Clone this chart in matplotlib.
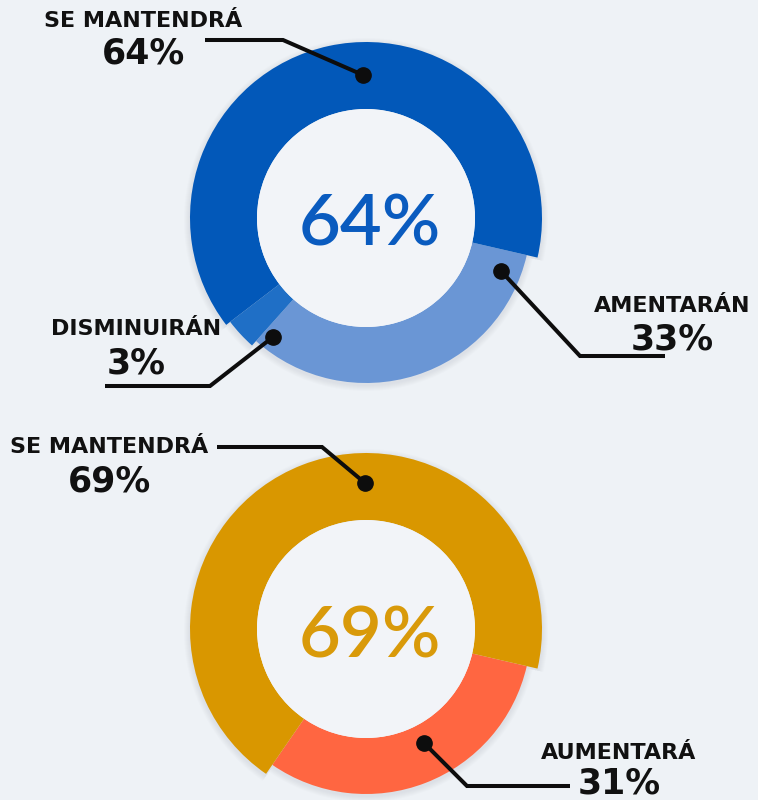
import matplotlib
matplotlib.use('Agg')
import matplotlib.pyplot as plt
from matplotlib.patches import Wedge, Circle

# ---------------- data ----------------
top_labels = ['AMENTARÁN', 'DISMINUIRÁN', 'SE MANTENDRÁ']
top_values = [33, 3, 64]
top_center = '64%'

bot_labels = ['AUMENTARÁ', 'SE MANTENDRÁ']
bot_values = [31, 69]
bot_center = '69%'

# ---------------- style ----------------
W, H = 758, 800
BG = '#eef2f6'
HOLE = '#f2f4f8'
top_colors = ['#6a96d5', '#1f6fc6', '#0258b9']
bot_colors = ['#ff6641', '#d99700']
top_radii = [165, 171, 176]
bot_radii = [165, 176]
INNER = 109

fig = plt.figure(figsize=(W / 100, H / 100), dpi=100, facecolor=BG)
ax = fig.add_axes([0, 0, 1, 1])
ax.set_xlim(0, W)
ax.set_ylim(0, H)
ax.axis('off')
ax.set_facecolor(BG)


def Y(py):
    return H - py


def donut(cx, cy, values, colors, radii, start):
    total = float(sum(values))
    a = start
    spans = []
    for v in values:
        s = 360.0 * v / total
        spans.append((a - s, a))
        a -= s
    # soft shadow
    for (t1, t2), r in zip(spans, radii):
        for k in range(1, 7):
            ax.add_patch(Wedge((cx, Y(cy) - 2), r + k, t1, t2, width=r + k - INNER,
                               fc='#7d8797', ec='none', alpha=0.025, zorder=1))
    for (t1, t2), c, r in zip(spans, colors, radii):
        ax.add_patch(Wedge((cx, Y(cy)), r, t1, t2, width=r - INNER,
                           fc=c, ec='none', zorder=2))
    ax.add_patch(Circle((cx, Y(cy)), INNER, fc=HOLE, ec='none', zorder=3))


donut(366, 218, top_values, top_colors, top_radii, -13)
donut(366, 629, bot_values, bot_colors, bot_radii, -13)

# center texts
ax.text(370, Y(245), top_center, ha='center', va='baseline', fontsize=52,
        family='Lato', fontweight='semibold', color='#0a5bbf', zorder=4)
ax.text(370, Y(657), bot_center, ha='center', va='baseline', fontsize=52,
        family='Lato', fontweight='semibold', color='#d99a0a', zorder=4)

# leader lines
leaders = [
    [(205, 40), (283, 40), (363, 75)],
    [(105, 386), (210, 386), (273, 337)],
    [(665, 356), (580, 356), (501, 271)],
    [(217, 447), (322, 447), (365, 483)],
    [(570, 786), (467, 786), (424, 743)],
]
for pts in leaders:
    xs = [p[0] for p in pts]
    ys = [Y(p[1]) for p in pts]
    ax.plot(xs, ys, color='#0d0d0d', lw=2.9, solid_capstyle='butt',
            solid_joinstyle='miter', zorder=5)
    ax.plot(xs[-1], ys[-1], 'o', ms=11, color='#0d0d0d', zorder=6)

# outer labels: (label, value, center x, label baseline, value baseline)
outer = [
    (top_labels[2], top_values[2], 143, 27, 64),
    (top_labels[1], top_values[1], 136, 335, 374),
    (top_labels[0], top_values[0], 672, 312, 349),
    (bot_labels[1], bot_values[1], 109, 453, 491),
    (bot_labels[0], bot_values[0], 619, 759, 794),
]
for lab, val, x, yl, yv in outer:
    ax.text(x, Y(yl), lab, ha='center', va='baseline', fontsize=16,
            family='DejaVu Sans', fontweight='bold', color='#111111', zorder=7)
    ax.text(x, Y(yv), f'{val}%', ha='center', va='baseline', fontsize=25,
            family='DejaVu Sans', fontweight='bold', color='#111111', zorder=7)

fig.savefig('out.png', dpi=100, facecolor=BG)
